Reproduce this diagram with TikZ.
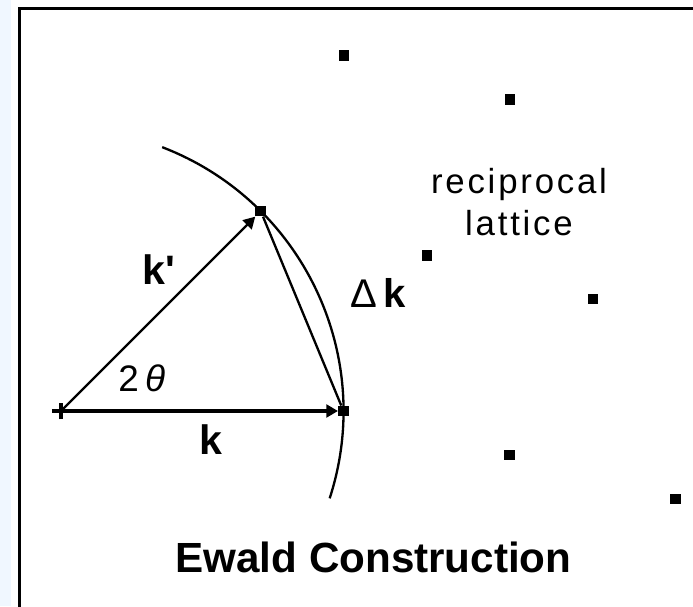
\documentclass[tikz,border=0pt]{standalone}
\usepackage{fontspec}
\setmainfont{Liberation Sans}
\newfontfamily\latfont[LetterSpace=8]{Liberation Sans}
\usepackage{tikz}
\usetikzlibrary{arrows.meta,positioning}
\definecolor{stripblue}{RGB}{240,247,255}

\begin{document}
\begin{tikzpicture}[scale=1,
	vec/.style={line width=2.2pt,-{Triangle[length=11pt,width=12pt]}},
	kvec/.style={line width=4pt,-{Triangle[length=11pt,width=12pt]}},
	curve/.style={line width=2.2pt},
	site/.style={rectangle,fill=black,minimum size=10pt,inner sep=0pt},
	lbl/.style={font=\fontsize{39}{44}\selectfont\bfseries}]
	
	\useasboundingbox (0,0) rectangle (23.1,20.2);
	\fill[stripblue] (0,0) rectangle (0.37,20.2);
	\draw[line width=2.85pt] (0.65,19.92) rectangle (24,-1);
	
	\coordinate (O) at (2.03,6.5);
	\node[site] (K) at ([shift={(0:9.42)}]O) {};
	\node[site] (Kp) at ([shift={(45:9.42)}]O) {};
	
	\node[site] (G1) at (11.47,18.35) {};
	\node[site] (G2) at (17.00,16.89) {};
	\node[site] (G3) at (14.23,11.69) {};
	\node[site] (G4) at (19.76,10.23) {};
	\node[site] (G5) at (16.98,5.03) {};
	\node[site] (G6) at (22.52,3.57) {};
	
	\draw[curve] ([shift={(69:9.42)}]O) arc[start angle=69,end angle=-18,radius=9.42];
	
	\draw[kvec] ([xshift=-0.3cm]O) -- (K);
	\draw[line width=4pt] ([yshift=-0.28cm]O) -- ([yshift=0.28cm]O);
	\draw[vec] (O) -- (Kp);
	\draw[curve] (Kp) -- (K);
	
	\node[lbl] (kplabel) at (5.30,11.20) {k\textquotesingle};
	\node[lbl] (klabel) at (7.02,5.53) {k};
	\node[font=\fontsize{35}{40}\selectfont] (angle) at (4.73,7.6) {2\hspace{6pt}\textit{θ}};
	\node[font=\fontsize{38}{42}\selectfont] (dk) at (12.6,10.43) {Δ\,\textbf{k}};
	
	\node[align=center,font=\latfont\fontsize{33}{40}\selectfont] (latlabel) at (17.3,13.47) {reciprocal\\lattice};
	
	\node[font=\fontsize{40}{48}\selectfont\bfseries] (title) at (12.45,1.63) {Ewald Construction};
	
\end{tikzpicture}
\end{document}
